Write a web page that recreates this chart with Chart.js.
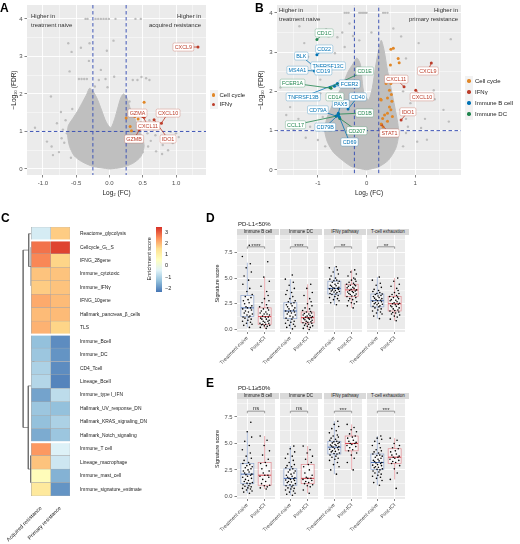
<!DOCTYPE html>
<html lang="en">
<head>
<meta charset="UTF-8">
<title>Resistance signatures</title>
<script src="https://cdn.jsdelivr.net/npm/chart.js"></script>
<style>
  body { margin: 0; width: 520px; height: 544px; position: relative; overflow: hidden; background: #fff;
         font-family: "Liberation Sans", Arial, sans-serif; }
  canvas { position: absolute; }
  .txt { position: absolute; white-space: pre; line-height: 1; color: #1a1a1a; }
</style>
</head>
<body>
<script>
// ---------- panel A: acquired resistance vs treatment naive ----------
// outline of the dense grey cloud of genes (log2 FC, -log10 FDR)
const cloudA = [[0,0],[-0.25,0.07],[-0.42,0.2],[-0.53,0.35],[-0.6,0.6],[-0.63,0.9],[-0.62,1.15],[-0.55,1.35],[-0.47,1.57],[-0.4,1.8],[-0.34,2.0],[-0.3,2.15],[-0.24,2.05],[-0.18,1.85],[-0.12,1.57],[-0.05,1.25],[0.02,1.1],[0.08,1.35],[0.12,1.6],[0.17,1.9],[0.21,2.0],[0.26,1.9],[0.32,1.57],[0.38,1.35],[0.43,1.1],[0.5,0.8],[0.52,0.6],[0.47,0.33],[0.35,0.15],[0.18,0.04],[0,0]];
const greyA = [
  [-0.36,4],[-0.33,4],[-0.21,4],[-0.17,4],[-0.13,4],[-0.09,4],[-0.05,4],[-0.01,4],[0.09,4],[0.39,4],[0.47,4],
  [-0.62,3.35],[-0.57,3.12],[-0.43,3.23],[-0.3,3.35],[-0.31,2.88],[-0.6,2.6],[-0.13,2.64],[-0.04,3.15],[0.06,3.42],[0.07,2.46],
  [-0.46,2.4],[-0.42,2.4],[-0.38,2.4],[-0.34,2.4],[-0.16,2.37],[-0.06,2.4],[-0.03,2.18],[0.35,2.37],[0.42,2.37],[0.48,2.45],[0.55,2.42],[0.6,2.37],
  [-0.88,1.93],[-0.73,1.52],[-0.79,1.22],[-1.12,1.1],[-0.94,0.73],[-0.87,0.6],[-0.72,0.82],[-0.64,0.95],[-0.85,0.37],[-0.76,0.45],
  [-0.7,1.05],[-0.68,0.7],[-0.66,1.3],[-0.56,1.6],[-0.58,0.3],[-0.22,2.2],
  [0.92,0.99],[0.95,0.69],[0.8,0.64],[0.69,0.9],[1.04,0.85],[0.79,0.4],[0.7,0.47],[0.66,1.06],[0.73,1.15],[0.6,1.3],
  [0.57,0.95],[0.55,1.1],[0.47,1.25],[0.5,0.45],[0.3,1.8],[0.62,0.75],[0.58,0.6],[0.88,0.5],[1.0,0.95]
];
const cellCycleA = [[0.3,1.5],[0.52,1.78],[0.31,1.13],[0.25,1.36],[0.33,1.02],[0.43,1.33],[0.38,1.4]];
const ifngGenesA = ['CXCL9','GZMA','CXCL10','CXCL11','GZMB','IDO1'];
const ifngFcA = [1.33, 0.52, 0.78, 0.5, 0.45, 0.67];
const ifngFdrA = [3.25, 1.38, 1.22, 1.4, 1.05, 1.31];

// ---------- panel B: primary resistance vs treatment naive ----------
const cloudB = [[0,0],[-0.3,0.08],[-0.5,0.25],[-0.68,0.45],[-0.8,0.7],[-0.86,1.0],[-0.82,1.3],[-0.72,1.6],[-0.6,1.9],[-0.48,2.2],[-0.38,2.5],[-0.28,2.7],[-0.2,2.85],[-0.13,2.7],[-0.1,2.4],[-0.06,2.0],[0.04,1.78],[0.12,2.1],[0.18,2.6],[0.24,3.0],[0.3,3.3],[0.36,3.05],[0.42,2.6],[0.5,2.1],[0.58,1.6],[0.64,1.2],[0.66,0.9],[0.6,0.55],[0.45,0.25],[0.25,0.08],[0,0]];
const greyB = [
  [-0.45,4],[-0.41,4],[-0.37,4],[-0.15,4],[-0.12,4],[-0.09,4],[-0.06,4],[-0.03,4],[0,4],[0.34,4],[0.38,4],[0.43,4],
  [-1.38,3.66],[-1.28,3.23],[-0.83,3.58],[-0.78,3.4],[-0.6,3.38],[-0.45,3.13],[-0.35,3.73],[-0.28,3.41],[-0.65,2.97],[-1.2,2.88],[-0.5,3.5],[-0.15,3.3],[0.1,3.5],[0.55,3.6],
  [-1.4,2.16],[-1.77,2.1],[-1.57,1.6],[-1.65,1.4],[-1.4,1.3],[-1.16,1.1],[-1.0,0.76],[-1.25,0.82],[-1.5,1.02],[-0.95,1.95],[-1.1,1.6],[-0.9,1.35],[-0.95,2.3],[-0.85,0.6],
  [1.73,3.33],[0.71,3.4],[0.81,2.84],[1.07,3.23],[1.28,2.5],[1.38,2.03],[1.4,1.8],[1.58,1.53],[1.69,1.23],[1.12,1.07],[0.81,0.94],[1.04,0.72],[1.24,0.77],[0.81,1.3],[0.7,1.53],[0.75,2.0],[0.9,1.7],[0.85,1.1],[0.95,1.45],[1.2,1.3],[0.75,0.6]
];
const cellCycleB = [[0.55,3.1],[0.5,3.07],[0.65,2.84],[0.67,2.73],[0.49,2.67],[0.47,2.36],[0.5,2.2],[0.4,2.2],[0.47,2.03],[0.51,1.92],[0.43,1.83],[0.3,1.78],[0.29,1.8],[0.52,1.75],[0.47,1.6],[0.5,1.53],[0.43,1.44],[0.37,1.4],[0.53,1.36],[0.33,1.31],[0.43,1.24],[0.3,1.17],[0.34,1.1]];
const ifngGenesB = ['CXCL9','CXCL11','CXCL10','IDO1','STAT1'];
const ifngFcB = [1.33, 0.77, 1.01, 0.71, 0.31];
const ifngFdrB = [2.72, 2.12, 2.03, 1.27, 1.15];
const bcellGenesB = ['CD22','BLK','MS4A1','TNFRSF13C','CD19','TNFRSF13B','FCER2','CD40','PAX5','CD79A','CD79B','CD69'];
const bcellFcB = [-1.02,-0.99,-1.07,-0.87,-0.95,-0.6,-0.66,-0.38,-0.58,-0.62,-0.58,-0.56];
const bcellFdrB = [2.93,2.54,2.52,2.48,2.47,2.2,2.13,1.55,1.44,1.37,1.4,1.35];
const dcGenesB = ['CD1C','CD1E','FCER1A','CD1A','CD1B','CCL17','CD207'];
const dcFcB = [-1.02,-0.75,-0.73,-0.62,-0.58,-0.62,-0.55];
const dcFdrB = [3.32,2.1,2.08,1.78,1.42,1.37,1.31];

const fcCut = 0.25, fdrCut = 1;
const xTicksA = [-1, -0.75, -0.5, -0.25, 0, 0.25, 0.5, 0.75, 1, 1.25];
const xMajorA = [-1, -0.5, 0, 0.5, 1];
const xTicksB = [-1.5, -1, -0.5, 0, 0.5, 1, 1.5];
const xMajorB = [-1, 0, 1];
const yTicksVol = [0, 0.5, 1, 1.5, 2, 2.5, 3, 3.5, 4];
const yMajorVol = [0, 1, 2, 3, 4];

// ---------- panel C: enrichment heatmap ----------
const sigNames = ['Reactome_glycolysis','Cellcycle_G\u2081_S','IFNG_28gene','Immune_cytotoxic','Immune_IFN\u03b3','IFNG_10gene',
  'Hallmark_pancreas_\u03b2_cells','TLS','Immune_Bcell','Immune_DC','CD4_Tcell','Lineage_Bcell','Immune_type I_IFN',
  'Hallmark_UV_response_DN','Hallmark_KRAS_signaling_DN','Hallmark_Notch_signaling','Immune_T cell','Lineage_macrophage',
  'Immune_mast_cell','Immune_signature_estimate'];
const conditions = ['Acquired resistance', 'Primary resistance'];
const acquired = [-0.5, 2.8, 2.6, 1.9, 1.8, 2.2, 2.0, 2.1, -1.3, -1.2, -1.0, -0.9, -1.7, -1.2, -1.3, -1.6, 2.4, 1.9, 0.7, 1.3];
const primary  = [1.8, 3.3, 1.7, 1.9, 1.9, 2.0, 2.0, 1.7, -2.0, -1.9, -2.0, -2.1, -0.8, -1.3, -1.0, -1.2, -0.4, -0.6, -1.5, -1.9];
const rowGapsAfter = [0, 7, 15];
// hclust-style merges: negative = leaf (1-based row), positive = earlier merge; last value = height
const dendroMerges = [[-4,-5,0.04],[-6,-7,0.05],[1,2,0.08],[3,-8,0.1],[-3,4,0.16],[-2,5,0.38],[-1,6,0.64],
  [-9,-10,0.05],[-11,-12,0.06],[8,9,0.12],[-14,-15,0.04],[11,-16,0.07],[-13,12,0.1],[10,13,0.22],
  [-17,-18,0.14],[-19,-20,0.1],[15,16,0.43],[14,17,0.69],[7,18,1.22]];
const colorTicks = [3, 2, 1, 0, -1, -2];

// ---------- panels D / E: signature scores ----------
const groups = ['Treatment-naive', 'Post-ICI'];
const facets = ['Immune B cell', 'Immune DC', 'IFN\u03b3 pathway', 'T-cell exhaustion'];
const scoreTicks = [0, 1.25, 2.5, 3.75, 5, 6.25, 7.5, 8.75];
const scoreMajor = [0, 2.5, 5, 7.5];

const lowBcellNaive = [0.2,0.4,0.5,0.6,0.7,0.8,0.9,1.0,1.1,1.2,1.2,1.3,1.4,1.5,1.6,1.7,1.8,1.9,2.0,2.1,2.1,2.2,2.3,2.5,2.6,2.8,2.9,3.1,3.2,3.4,3.7,4.0,4.4,4.8,5.2,5.6,6.0,6.4,7.1,8.2];
const lowBcellPost = [0.1,0.2,0.3,0.35,0.4,0.45,0.5,0.5,0.6,0.6,0.7,0.8,0.8,0.9,1.0,1.0,1.1,1.2,1.2,1.3,1.4,1.5,1.5,1.6,1.7,1.8,1.9,2.0,2.1,2.2,2.4,2.6,2.8,3.0,3.3,3.7,4.2,4.7,5.1,6.6];
const lowDcNaive = [0.05,0.2,0.3,0.4,0.5,0.6,0.7,0.8,0.9,1.0,1.1,1.2,1.3,1.4,1.5,1.6,1.7,1.7,1.8,1.8,1.9,2.0,2.1,2.2,2.3,2.4,2.5,2.6,2.7,2.8,3.0,3.2,3.4,3.6,3.8,4.0,4.3,4.6,4.9,5.3];
const lowDcPost = [0.0,0.1,0.2,0.3,0.35,0.4,0.5,0.55,0.6,0.65,0.7,0.75,0.8,0.9,0.95,1.0,1.05,1.1,1.15,1.2,1.25,1.3,1.35,1.4,1.5,1.55,1.6,1.7,1.75,1.85,2.0,2.1,2.3,2.5,2.7,3.0,3.3,3.6,4.0,4.4];
const lowIfngNaive = [2.4,2.6,2.8,2.9,3.0,3.1,3.2,3.3,3.4,3.45,3.5,3.6,3.65,3.7,3.75,3.8,3.85,3.9,3.95,4.0,4.0,4.05,4.1,4.2,4.25,4.3,4.4,4.5,4.6,4.7,4.75,4.8,4.9,5.0,5.2,5.4,5.6,5.8,6.0,6.1];
const lowIfngPost = [2.1,2.3,2.5,2.6,2.7,2.8,2.9,3.0,3.1,3.2,3.25,3.3,3.4,3.45,3.5,3.6,3.65,3.7,3.75,3.8,3.85,3.9,4.0,4.05,4.1,4.2,4.25,4.3,4.35,4.4,4.5,4.6,4.7,4.8,4.9,5.0,5.2,5.4,5.6,5.8];
const lowTexNaive = [1.05,1.3,1.5,1.6,1.7,1.8,1.9,2.0,2.1,2.2,2.25,2.3,2.4,2.45,2.5,2.55,2.6,2.7,2.75,2.8,2.85,2.9,3.0,3.05,3.1,3.2,3.25,3.3,3.4,3.45,3.5,3.6,3.7,3.8,3.9,4.1,4.3,4.5,4.8,5.1];
const lowTexPost = [0.85,1.0,1.2,1.3,1.4,1.5,1.6,1.65,1.7,1.8,1.85,1.9,2.0,2.1,2.2,2.25,2.3,2.4,2.45,2.5,2.55,2.6,2.7,2.8,2.85,2.9,3.0,3.1,3.15,3.2,3.3,3.4,3.5,3.6,3.8,4.0,4.2,4.4,4.7,5.0];

const highBcellNaive = [0.3,0.4,0.5,0.6,0.7,0.75,0.8,0.9,0.95,1.0,1.1,1.2,1.25,1.3,1.4,1.5,1.6,1.7,1.8,1.9,2.0,2.05,2.1,2.2,2.3,2.4,2.5,2.6,2.7,2.8,2.9,3.0,3.1,3.2,3.4,3.6,3.8,4.1,4.4,4.8,5.2,5.6,6.1,7.0];
const highBcellPost = [0.7,0.8,0.9,1.0,1.05,1.2,1.4,1.6,1.8,1.9,2.0,2.0,2.2,2.4,2.6,2.9,3.1,3.2,3.5,3.9,4.3,4.8,5.3,5.7];
const highDcNaive = [0.1,0.2,0.3,0.4,0.5,0.6,0.7,0.75,0.8,0.9,1.0,1.05,1.1,1.2,1.3,1.35,1.4,1.5,1.55,1.6,1.65,1.7,1.75,1.8,1.9,2.0,2.1,2.2,2.3,2.4,2.5,2.6,2.7,2.8,2.9,3.0,3.2,3.4,3.6,3.8,4.0,4.2,4.5,4.75];
const highDcPost = [0.3,0.6,0.9,1.0,1.1,1.2,1.3,1.4,1.5,1.6,1.7,1.7,1.8,2.0,2.2,2.5,2.8,3.0,3.2,3.5,3.8,4.1,4.4,4.75];
const highIfngNaive = [2.1,2.5,2.8,3.0,3.2,3.4,3.5,3.6,3.7,3.8,3.9,4.0,4.05,4.1,4.2,4.25,4.3,4.4,4.45,4.5,4.6,4.65,4.7,4.75,4.8,4.85,4.9,5.0,5.05,5.1,5.15,5.2,5.3,5.4,5.5,5.6,5.7,5.8,6.0,6.2,6.4,6.6,6.8,7.1];
const highIfngPost = [2.5,3.2,3.6,3.9,4.1,4.3,4.4,4.6,4.7,4.8,4.9,5.0,5.0,5.1,5.2,5.3,5.5,5.6,5.7,5.9,6.1,6.3,6.5,6.8];
const highTexNaive = [1.05,1.3,1.5,1.7,1.8,1.9,2.0,2.1,2.2,2.3,2.4,2.5,2.55,2.6,2.7,2.75,2.8,2.9,2.95,3.0,3.1,3.15,3.2,3.3,3.35,3.4,3.5,3.6,3.7,3.8,3.85,3.9,4.0,4.1,4.2,4.3,4.4,4.6,4.8,5.0,5.2,5.4,5.5,5.7];
const highTexPost = [0.75,1.6,2.2,2.6,2.9,3.1,3.2,3.3,3.4,3.5,3.6,3.7,3.7,3.8,3.9,4.0,4.2,4.3,4.5,4.6,4.8,5.0,5.3,5.5];

// box statistics per facet: [lower whisker, Q1, median, Q3, upper whisker]
const lowBoxNaive = [[0.2,1.25,2.1,3.3,6.5],[0.05,1.05,1.8,2.6,4.9],[2.4,3.45,4.0,4.7,6.1],[1.05,2.2,2.8,3.45,5.1]];
const lowBoxPost  = [[0.1,0.5,1.25,2.1,5.1],[0,0.65,1.15,1.7,4.4],[2.1,3.2,3.85,4.4,5.8],[0.85,1.8,2.5,3.2,5.0]];
const highBoxNaive = [[0.3,1.2,2.1,3.1,6.1],[0.1,1.05,1.7,2.6,4.75],[2.1,4.0,4.65,5.2,7.1],[1.05,2.55,3.2,4.0,5.7]];
const highBoxPost  = [[0.7,1.05,2.0,3.2,5.7],[0.3,1.2,1.7,3.0,4.75],[2.5,4.3,5.0,5.7,6.8],[1.6,3.1,3.7,4.5,5.5]];
const lowSig = ['****', '****', '**', '**'];
const highSig = ['ns', 'ns', '***', '***'];

// horizontal jitter used for the points (fixed offsets)
const jitter = [0.12,-0.21,0.27,-0.05,0.18,-0.28,0.03,0.22,-0.14,0.09,-0.25,0.15,-0.02,0.29,-0.18,0.06,-0.11,0.24,-0.27,0.01,0.19,-0.08,
  0.26,-0.16,0.1,-0.23,0.04,0.21,-0.12,0.28,-0.03,0.14,-0.26,0.07,-0.19,0.23,-0.07,0.17,-0.29,0.11,-0.15,0.25,-0.01,0.2];

// ---------- styling ----------
const FONT = '"Liberation Sans", Arial, sans-serif';
const GREY = '#bdbdbd', CLOUD = '#bfbfbf', REF = '#3f55b5', PANEL = '#ebebeb';
const COL = { cell: '#E18727', ifng: '#BC3C29', bcell: '#0072B5', dc: '#20854E' };
const NAIVE = '#4a6fb5', POST = '#d9434e';

Chart.defaults.font.family = FONT;
Chart.defaults.color = '#4d4d4d';
Chart.defaults.animation = false;
Chart.defaults.plugins.legend.display = false;
Chart.defaults.plugins.tooltip.enabled = false;

function mk(left, top, w, h) {
  const c = document.createElement('canvas');
  c.width = w; c.height = h;
  Object.assign(c.style, { left: left + 'px', top: top + 'px', width: w + 'px', height: h + 'px' });
  document.body.appendChild(c);
  return c;
}
function txt(s, x, yc, size, extra) {
  const d = document.createElement('div');
  d.className = 'txt';
  d.textContent = s;
  Object.assign(d.style, { left: x + 'px', top: (yc - 0.5 * size) + 'px', fontSize: size + 'px' }, extra || {});
  document.body.appendChild(d);
  return d;
}
function txtR(s, xr, yc, size, extra) {
  const d = txt(s, 0, yc, size, extra);
  d.style.left = 'auto';
  d.style.right = (520 - xr) + 'px';
  return d;
}
const toXY = arr => arr.map(([x, y]) => ({ x, y }));

// grey panel background
const panelBg = {
  id: 'panelBg',
  beforeDraw(chart) {
    const a = chart.chartArea, c = chart.ctx;
    c.save(); c.fillStyle = PANEL;
    c.fillRect(a.left, a.top, a.right - a.left, a.bottom - a.top);
    c.restore();
  }
};
function gridStyle(major) {
  const isMajor = c => c.tick && major.includes(c.tick.value);
  return {
    color: '#fff', lineWidth: c => isMajor(c) ? 0.9 : 0.45,
    drawTicks: true, tickLength: 2.5, tickWidth: 0.6,
    tickColor: c => isMajor(c) ? '#333' : 'rgba(0,0,0,0)'
  };
}

// labelled genes with connector segments
const repel = {
  id: 'repel',
  afterDatasetsDraw(chart, args, o) {
    const { ctx, scales: { x, y } } = chart;
    const items = o.items.map(it => ({ ...it,
      px: x.getPixelForValue(it.x), py: y.getPixelForValue(it.y),
      bx: x.getPixelForValue(it.lx), by: y.getPixelForValue(it.ly) }));
    ctx.save();
    ctx.font = o.size + 'px ' + FONT;
    ctx.textAlign = 'center'; ctx.textBaseline = 'middle';
    items.forEach(it => {
      ctx.strokeStyle = it.color; ctx.lineWidth = 0.8;
      ctx.beginPath(); ctx.moveTo(it.bx, it.by); ctx.lineTo(it.px, it.py); ctx.stroke();
    });
    items.forEach(it => {
      const w = ctx.measureText(it.t).width + 3.4, h = o.size + 2.6;
      ctx.fillStyle = '#fff'; ctx.strokeStyle = it.color + '66'; ctx.lineWidth = 0.7;
      ctx.beginPath();
      if (ctx.roundRect) ctx.roundRect(it.bx - w / 2, it.by - h / 2, w, h, 1.3);
      else ctx.rect(it.bx - w / 2, it.by - h / 2, w, h);
      ctx.fill(); ctx.stroke();
      ctx.fillStyle = it.color;
      ctx.fillText(it.t, it.bx, it.by + 0.4);
    });
    ctx.restore();
  }
};
function labelItems(genes, fc, fdr, pos, color) {
  return genes.map((g, i) => ({ t: g, x: fc[i], y: fdr[i], lx: pos[g][0], ly: pos[g][1], color }));
}
const refLine = data => ({ type: 'line', data, borderColor: REF, borderWidth: 1, borderDash: [3.5, 2.5], pointRadius: 0, order: 5 });

function volcano(o) {
  const cv = mk(o.left, -5, o.width, 205);
  const datasets = [
    { type: 'line', data: toXY(o.cloud), fill: 'shape', backgroundColor: CLOUD, borderColor: CLOUD, borderWidth: 1, pointRadius: 0, tension: 0.25, order: 10 },
    { data: toXY(o.grey), backgroundColor: GREY, pointRadius: 1.2, borderWidth: 0, order: 9 },
    refLine([{ x: -fcCut, y: -1 }, { x: -fcCut, y: 5 }]),
    refLine([{ x: fcCut, y: -1 }, { x: fcCut, y: 5 }]),
    refLine([{ x: -3, y: fdrCut }, { x: 3, y: fdrCut }])
  ];
  o.marks.forEach(m => datasets.push({ data: m.pts, backgroundColor: m.color, pointRadius: 1.5, borderWidth: 0, order: 1 }));
  return new Chart(cv, {
    type: 'scatter',
    data: { datasets },
    options: {
      responsive: false,
      layout: { padding: { top: 10, right: 3 } },
      scales: {
        x: {
          type: 'linear', min: o.xMin, max: o.xMax,
          afterBuildTicks: s => { s.ticks = o.xTicks.map(v => ({ value: v })); },
          ticks: { autoSkip: false, maxRotation: 0, padding: 2, font: { size: 6 }, color: '#4d4d4d',
                   callback: v => o.xMajor.includes(v) ? o.xFmt(v) : '' },
          grid: gridStyle(o.xMajor), border: { display: false },
          title: { display: true, text: 'Log\u2082 (FC)', font: { size: 6.5 }, color: '#1a1a1a', padding: { top: 0, bottom: 2.8 } },
          afterFit: s => { s.height = 25; }
        },
        y: {
          type: 'linear', min: o.yMin, max: o.yMax,
          afterBuildTicks: s => { s.ticks = yTicksVol.map(v => ({ value: v })); },
          ticks: { autoSkip: false, padding: 2, font: { size: 6 }, color: '#4d4d4d',
                   callback: v => yMajorVol.includes(v) ? String(v) : '' },
          grid: gridStyle(yMajorVol), border: { display: false },
          title: { display: true, text: '\u2212Log\u2081\u2080 (FDR)', font: { size: 6.5 }, color: '#1a1a1a', padding: { top: o.yTitlePad } },
          afterFit: s => { s.width = 27; }
        }
      },
      plugins: { repel: { items: o.labels, size: 5.4 } }
    },
    plugins: [panelBg, repel]
  });
}

const labelPosA = { CXCL9: [1.11, 3.25], GZMA: [0.42, 1.49], CXCL10: [0.88, 1.49], CXCL11: [0.58, 1.15], GZMB: [0.37, 0.8], IDO1: [0.88, 0.8] };
const labelPosB = { CD1C: [-0.87, 3.49], CD22: [-0.87, 3.08], BLK: [-1.34, 2.9], TNFRSF13C: [-0.79, 2.65], MS4A1: [-1.42, 2.54],
  CD19: [-0.89, 2.52], CD1E: [-0.04, 2.52], FCER1A: [-1.52, 2.21], FCER2: [-0.35, 2.19], TNFRSF13B: [-1.3, 1.86],
  CD1A: [-0.65, 1.86], CD40: [-0.18, 1.86], PAX5: [-0.53, 1.68], CD79A: [-1.0, 1.53], CD1B: [-0.04, 1.45],
  CCL17: [-1.46, 1.15], CD79B: [-0.85, 1.09], CD207: [-0.2, 1.0], CD69: [-0.35, 0.71],
  CXCL9: [1.26, 2.52], CXCL11: [0.61, 2.31], CXCL10: [1.14, 1.86], IDO1: [0.85, 1.48], STAT1: [0.47, 0.94] };

volcano({
  left: 0, width: 210, xMin: -1.24, xMax: 1.45, yMin: -0.16, yMax: 4.37,
  xTicks: xTicksA, xMajor: xMajorA, xFmt: v => v.toFixed(1), yTitlePad: 10.8,
  cloud: cloudA, grey: greyA,
  marks: [
    { pts: toXY(cellCycleA), color: COL.cell },
    { pts: ifngFcA.map((x, i) => ({ x, y: ifngFdrA[i] })), color: COL.ifng }
  ],
  labels: labelItems(ifngGenesA, ifngFcA, ifngFdrA, labelPosA, COL.ifng)
});
volcano({
  left: 250, width: 215, xMin: -1.84, xMax: 1.94, yMin: -0.13, yMax: 4.2,
  xTicks: xTicksB, xMajor: xMajorB, xFmt: v => String(v), yTitlePad: 7.8,
  cloud: cloudB, grey: greyB,
  marks: [
    { pts: toXY(cellCycleB), color: COL.cell },
    { pts: ifngFcB.map((x, i) => ({ x, y: ifngFdrB[i] })), color: COL.ifng },
    { pts: bcellFcB.map((x, i) => ({ x, y: bcellFdrB[i] })), color: COL.bcell },
    { pts: dcFcB.map((x, i) => ({ x, y: dcFdrB[i] })), color: COL.dc }
  ],
  labels: [].concat(
    labelItems(bcellGenesB, bcellFcB, bcellFdrB, labelPosB, COL.bcell),
    labelItems(dcGenesB, dcFcB, dcFdrB, labelPosB, COL.dc),
    labelItems(ifngGenesB, ifngFcB, ifngFdrB, labelPosB, COL.ifng))
});

// annotations and legends for A / B
txt('Higher in', 31, 15.5, 6, { color: '#333' });
txt('treatment naive', 31, 24.5, 6, { color: '#333' });
txtR('Higher in', 201, 15.5, 6, { color: '#333' });
txtR('acquired resistance', 201, 24.5, 6, { color: '#333' });
txt('Higher in', 279, 10, 6, { color: '#333' });
txt('treatment naive', 279, 18.5, 6, { color: '#333' });
txtR('Higher in', 458, 10, 6, { color: '#333' });
txtR('primary resistance', 458, 18.5, 6, { color: '#333' });

function legend(x, yc0, step, items) {
  items.forEach(([name, col], i) => {
    const yc = yc0 + i * step;
    const key = document.createElement('div');
    Object.assign(key.style, { position: 'absolute', left: x + 'px', top: (yc - step / 2) + 'px', width: '8px', height: step + 'px', background: '#f2f2f2' });
    const dot = document.createElement('div');
    Object.assign(dot.style, { position: 'absolute', left: '2.3px', top: (step / 2 - 1.7) + 'px', width: '3.4px', height: '3.4px', borderRadius: '50%', background: col });
    key.appendChild(dot);
    document.body.appendChild(key);
    txt(name, x + 10, yc, 6);
  });
}
legend(209.5, 95, 9.3, [['Cell cycle', COL.cell], ['IFN\u03b3', COL.ifng]]);
legend(465, 81, 11, [['Cell cycle', COL.cell], ['IFN\u03b3', COL.ifng], ['Immune B cell', COL.bcell], ['Immune DC', COL.dc]]);

// ---------- panel C ----------
const heatStops = ['#4575b4', '#91bfdb', '#e0f3f8', '#ffffbf', '#fee090', '#fc8d59', '#d73027'];
const heatMin = -2.3, heatMax = 3.5;
function hex(c) { return [1, 3, 5].map(i => parseInt(c.slice(i, i + 2), 16)); }
function heatColor(v) {
  const t = Math.min(1, Math.max(0, (v - heatMin) / (heatMax - heatMin))) * (heatStops.length - 1);
  const i = Math.min(heatStops.length - 2, Math.floor(t)), f = t - i;
  const a = hex(heatStops[i]), b = hex(heatStops[i + 1]);
  return 'rgb(' + a.map((c, k) => Math.round(c + (b[k] - c) * f)).join(',') + ')';
}
function dendroPath() {
  const pos = [], pts = [];
  const node = c => c < 0 ? [0, -c - 1] : pos[c - 1];
  dendroMerges.forEach(([a, b, h]) => {
    const [ha, ya] = node(a), [hb, yb] = node(b);
    pts.push({ x: ha, y: ya }, { x: h, y: ya }, { x: h, y: yb }, { x: hb, y: yb }, { x: null, y: null });
    pos.push([h, (ya + yb) / 2]);
  });
  return pts;
}
const rowGaps = {
  id: 'rowGaps',
  afterDatasetsDraw(chart) {
    const { ctx, scales: { x, y } } = chart;
    ctx.save(); ctx.fillStyle = '#fff';
    const x0 = x.getPixelForValue(0), x1 = x.getPixelForValue(2);
    rowGapsAfter.forEach(i => { ctx.fillRect(x0 - 1, y.getPixelForValue(i + 0.5) - 1, x1 - x0 + 2, 2); });
    ctx.restore();
  }
};
const rowIdx = sigNames.map((_, i) => i);
const heatRowPx = 269 / sigNames.length;   // chart area height / rows
const cellStyle = { indexAxis: 'y', borderColor: '#a8a8a8', borderWidth: 0.5, borderSkipped: false,
  barThickness: heatRowPx, grouped: false, xAxisID: 'x', yAxisID: 'y' };
new Chart(mk(0, 220, 215, 324), {
  type: 'bar',
  data: { datasets: [
    Object.assign({ data: rowIdx.map(i => ({ y: i, x: [0, 1] })), backgroundColor: acquired.map(heatColor) }, cellStyle),
    Object.assign({ data: rowIdx.map(i => ({ y: i, x: [1, 2] })), backgroundColor: primary.map(heatColor) }, cellStyle),
    { type: 'line', data: dendroPath(), xAxisID: 'xd', yAxisID: 'y', borderColor: '#555', borderWidth: 0.6, pointRadius: 0, spanGaps: false }
  ] },
  options: {
    responsive: false,
    layout: { padding: { left: 7, top: 7 } },
    scales: {
      x: { type: 'linear', min: -1.26, max: 2, offset: false,
           afterBuildTicks: s => { s.ticks = [{ value: 0.5 }, { value: 1.5 }]; },
           ticks: { autoSkip: false, minRotation: 45, maxRotation: 45, padding: 1, font: { size: 5.4 }, color: '#1a1a1a',
                    callback: v => conditions[v < 1 ? 0 : 1] },
           grid: { display: false, offset: false }, border: { display: false },
           afterFit: s => { s.height = 48; } },
      xd: { type: 'linear', display: false, reverse: true, min: -2, max: 1.26 },
      y: { type: 'linear', position: 'right', reverse: true, min: -0.5, max: 19.5, offset: false,
           afterBuildTicks: s => { s.ticks = rowIdx.map(i => ({ value: i })); },
           ticks: { autoSkip: false, padding: 2, font: { size: 4.9 }, color: '#1a1a1a', callback: v => sigNames[v] },
           grid: { display: false }, border: { display: false },
           afterFit: s => { s.width = 145; } }
    }
  },
  plugins: [rowGaps]
});
// colour key
const cbTop = 227, cbH = 65;
const cb = document.createElement('div');
Object.assign(cb.style, { position: 'absolute', left: '156px', top: cbTop + 'px', width: '6px', height: cbH + 'px',
  background: 'linear-gradient(to top,' + heatStops.join(',') + ')' });
document.body.appendChild(cb);
colorTicks.forEach(v => txt(String(v).replace('-', '\u2212'), 165, cbTop + (heatMax - v) / (heatMax - heatMin) * cbH, 5.5));
txt('Enrichment score', 150, 259, 5.6, { transform: 'translate(-50%, 0) rotate(-90deg)', transformOrigin: '50% 50%' });

// ---------- panels D / E ----------
const boxHalf = 0.375;
const boxPlot = {
  id: 'boxPlot',
  beforeDatasetsDraw(chart, args, o) {
    const { ctx, scales: { x, y } } = chart;
    ctx.save();
    o.stats.forEach((s, g) => {
      const [lo, q1, md, q3, hi] = s.map(v => y.getPixelForValue(v));
      const cx = x.getPixelForValue(g + 1), w = x.getPixelForValue(g + 1 + boxHalf) - cx;
      const col = o.colors[g];
      ctx.strokeStyle = col + '99'; ctx.lineWidth = 0.7;
      ctx.beginPath(); ctx.moveTo(cx, q3); ctx.lineTo(cx, hi); ctx.moveTo(cx, q1); ctx.lineTo(cx, lo); ctx.stroke();
      ctx.fillStyle = 'rgba(255,255,255,0.5)';
      ctx.fillRect(cx - w, q3, 2 * w, q1 - q3);
      ctx.strokeRect(cx - w, q3, 2 * w, q1 - q3);
      ctx.strokeStyle = col; ctx.lineWidth = 1;
      ctx.beginPath(); ctx.moveTo(cx - w, md); ctx.lineTo(cx + w, md); ctx.stroke();
    });
    ctx.restore();
  },
  afterDatasetsDraw(chart, args, o) {
    const { ctx, scales: { x, y } } = chart;
    const x1 = x.getPixelForValue(1), x2 = x.getPixelForValue(2);
    const yb = y.getPixelForValue(8.05), yt = y.getPixelForValue(7.85);
    ctx.save();
    ctx.strokeStyle = '#444'; ctx.lineWidth = 0.5;
    ctx.beginPath(); ctx.moveTo(x1, yt); ctx.lineTo(x1, yb); ctx.lineTo(x2, yb); ctx.lineTo(x2, yt); ctx.stroke();
    ctx.fillStyle = '#333'; ctx.font = '6px ' + FONT; ctx.textAlign = 'center'; ctx.textBaseline = 'bottom';
    ctx.fillText(o.sig, (x1 + x2) / 2, yb + (o.sig === 'ns' ? -0.3 : 2.2));
    ctx.restore();
  }
};
const facetLeft = [237, 280, 324, 367], facetW = 42;
const pts = (vals, g, shift) => vals.map((v, k) => ({ x: g + jitter[(k + shift) % jitter.length], y: v }));

function scorePanel(geo, sets, boxNaive, boxPost, sig) {
  txt(geo.title, 238, geo.titleY, 6);
  facets.forEach((name, f) => {
    const first = f === 0, L = facetLeft[f];
    txt(name, L, geo.stripTop + 3, 4.5, { width: facetW + 'px', height: '6px', lineHeight: '6px', top: geo.stripTop + 'px',
      background: '#d9d9d9', textAlign: 'center', overflow: 'hidden' });
    const cvLeft = first ? 205 : L - 36;
    const cvTop = geo.top - 10;
    const cvH = geo.canvasBottom - cvTop;
    new Chart(mk(cvLeft, cvTop, L + facetW - cvLeft, cvH), {
      type: 'scatter',
      data: { datasets: [
        { data: pts(sets[f][0], 1, 0), backgroundColor: '#000', pointRadius: 0.8, borderWidth: 0 },
        { data: pts(sets[f][1], 2, 9), backgroundColor: '#000', pointRadius: 0.8, borderWidth: 0 }
      ] },
      options: {
        responsive: false,
        layout: { padding: { top: 10, left: first ? 0 : 36 } },
        scales: {
          x: { type: 'linear', min: 0.4, max: 2.6,
               afterBuildTicks: s => { s.ticks = [{ value: 1 }, { value: 2 }]; },
               ticks: { autoSkip: false, minRotation: 45, maxRotation: 45, padding: 1, font: { size: 5.2 }, color: '#4d4d4d',
                        callback: v => groups[v - 1] },
               grid: { color: '#fff', lineWidth: 0.9, tickLength: 2, tickWidth: 0.6, tickColor: '#333' }, border: { display: false },
               afterFit: s => { s.height = cvH - 10 - (geo.bottom - geo.top); } },
          y: { type: 'linear', min: -0.25, max: 9.2,
               afterBuildTicks: s => { s.ticks = scoreTicks.map(v => ({ value: v })); },
               ticks: { display: first, autoSkip: false, padding: 2, font: { size: 5.8 }, color: '#4d4d4d',
                        callback: v => scoreMajor.includes(v) ? v.toFixed(1) : '' },
               grid: Object.assign(gridStyle(scoreMajor), { drawTicks: first }), border: { display: false },
               title: { display: first, text: 'Signature score', font: { size: 5.4 }, color: '#1a1a1a', padding: { top: 9.5 } },
               afterFit: s => { s.width = first ? L - 205 : 0; } }
        },
        plugins: { boxPlot: { stats: [boxNaive[f], boxPost[f]], colors: [NAIVE, POST], sig: sig[f] } }
      },
      plugins: [panelBg, boxPlot]
    });
  });
}
scorePanel({ title: 'PD-L1<50%', titleY: 224, stripTop: 229, top: 235, bottom: 332, canvasBottom: 378 },
  [[lowBcellNaive, lowBcellPost], [lowDcNaive, lowDcPost], [lowIfngNaive, lowIfngPost], [lowTexNaive, lowTexPost]],
  lowBoxNaive, lowBoxPost, lowSig);
scorePanel({ title: 'PD-L1\u226550%', titleY: 388, stripTop: 393, top: 399, bottom: 499, canvasBottom: 544 },
  [[highBcellNaive, highBcellPost], [highDcNaive, highDcPost], [highIfngNaive, highIfngPost], [highTexNaive, highTexPost]],
  highBoxNaive, highBoxPost, highSig);

// panel tags
[['A', 0, 1.5], ['B', 255, 1.5], ['C', 1, 211.5], ['D', 206, 211.5], ['E', 206, 376.5]].forEach(([t, x, y]) =>
  txt(t, x, y + 6, 12, { fontWeight: 'bold', color: '#000' }));
</script>
</body>
</html>
